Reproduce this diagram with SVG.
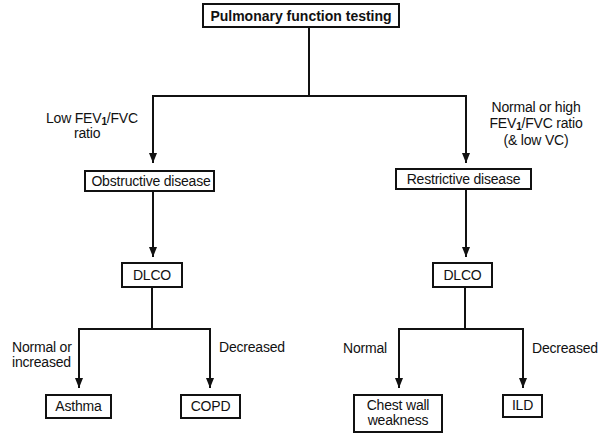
<svg xmlns="http://www.w3.org/2000/svg" width="605" height="439" viewBox="0 0 605 439">
<style>
  .box { fill: #fff; stroke: #111; stroke-width: 2; }
  .t { font-family: "Liberation Sans", Arial, sans-serif; font-size: 14px; fill: #111; letter-spacing: -0.2px; }
  .b { font-weight: bold; letter-spacing: 0; }
  .c { text-anchor: middle; }
  .sub { font-size: 10px; font-weight: bold; }
  .ln { fill: none; stroke: #111; stroke-width: 2; }
</style>
<defs>
  <marker id="arr" viewBox="0 0 10 8" refX="10" refY="4" markerWidth="10" markerHeight="8" markerUnits="userSpaceOnUse" orient="auto">
    <path d="M0,0 L10,4 L0,8 z" fill="#111"/>
  </marker>
</defs>
<rect width="605" height="439" fill="#fff"/>

<g id="connectors">
  <path class="ln" d="M309,27 V96"/>
  <path class="ln" d="M153,96 H466"/>
  <path class="ln" d="M153,95 V163" marker-end="url(#arr)"/>
  <path class="ln" d="M466,95 V163" marker-end="url(#arr)"/>
  <path class="ln" d="M153,191 V257" marker-end="url(#arr)"/>
  <path class="ln" d="M466,189 V257" marker-end="url(#arr)"/>
  <path class="ln" d="M152,287 V329"/>
  <path class="ln" d="M79,329 H210"/>
  <path class="ln" d="M79,328 V388" marker-end="url(#arr)"/>
  <path class="ln" d="M210,328 V388" marker-end="url(#arr)"/>
  <path class="ln" d="M465,287 V329"/>
  <path class="ln" d="M399,329 H523"/>
  <path class="ln" d="M399,328 V388" marker-end="url(#arr)"/>
  <path class="ln" d="M523,328 V388" marker-end="url(#arr)"/>
</g>

<g id="labels">
  <text class="t" x="46" y="123">Low FEV<tspan class="sub" dy="2">1</tspan><tspan dy="-2">/FVC</tspan></text>
  <text class="t" x="74" y="138">ratio</text>
  <text class="t c" x="536" y="112">Normal or high</text>
  <text class="t c" x="536" y="128">FEV<tspan class="sub" dy="2">1</tspan><tspan dy="-2">/FVC ratio</tspan></text>
  <text class="t c" x="536" y="145">(&amp; low VC)</text>
  <text class="t" x="12" y="352">Normal or</text>
  <text class="t" x="12" y="367">increased</text>
  <text class="t" x="219" y="352">Decreased</text>
  <text class="t" x="343" y="353">Normal</text>
  <text class="t" x="532" y="353">Decreased</text>
</g>

<g id="node-pft">
  <rect class="box" x="203" y="4" width="196" height="23"/>
  <text class="t b c" x="301" y="21">Pulmonary function testing</text>
</g>
<g id="node-obstructive">
  <rect class="box" x="85" y="171" width="129" height="20"/>
  <text class="t c" x="151" y="186">Obstructive disease</text>
</g>
<g id="node-restrictive">
  <rect class="box" x="396" y="169" width="135" height="20"/>
  <text class="t c" x="463.5" y="184">Restrictive disease</text>
</g>
<g id="node-dlco-left">
  <rect class="box" x="122" y="263" width="60" height="24"/>
  <text class="t c" x="152" y="280">DLCO</text>
</g>
<g id="node-dlco-right">
  <rect class="box" x="433" y="263" width="59" height="24"/>
  <text class="t c" x="462.5" y="280">DLCO</text>
</g>
<g id="node-asthma">
  <rect class="box" x="46" y="395" width="65" height="23"/>
  <text class="t c" x="78.5" y="411">Asthma</text>
</g>
<g id="node-copd">
  <rect class="box" x="181" y="395" width="59" height="23"/>
  <text class="t c" x="210.5" y="411">COPD</text>
</g>
<g id="node-chest">
  <rect class="box" x="354" y="395" width="88" height="37"/>
  <text class="t c" x="398" y="410">Chest wall</text>
  <text class="t c" x="398" y="425">weakness</text>
</g>
<g id="node-ild">
  <rect class="box" x="503" y="395" width="39" height="22"/>
  <text class="t c" x="522.5" y="410">ILD</text>
</g>
</svg>
